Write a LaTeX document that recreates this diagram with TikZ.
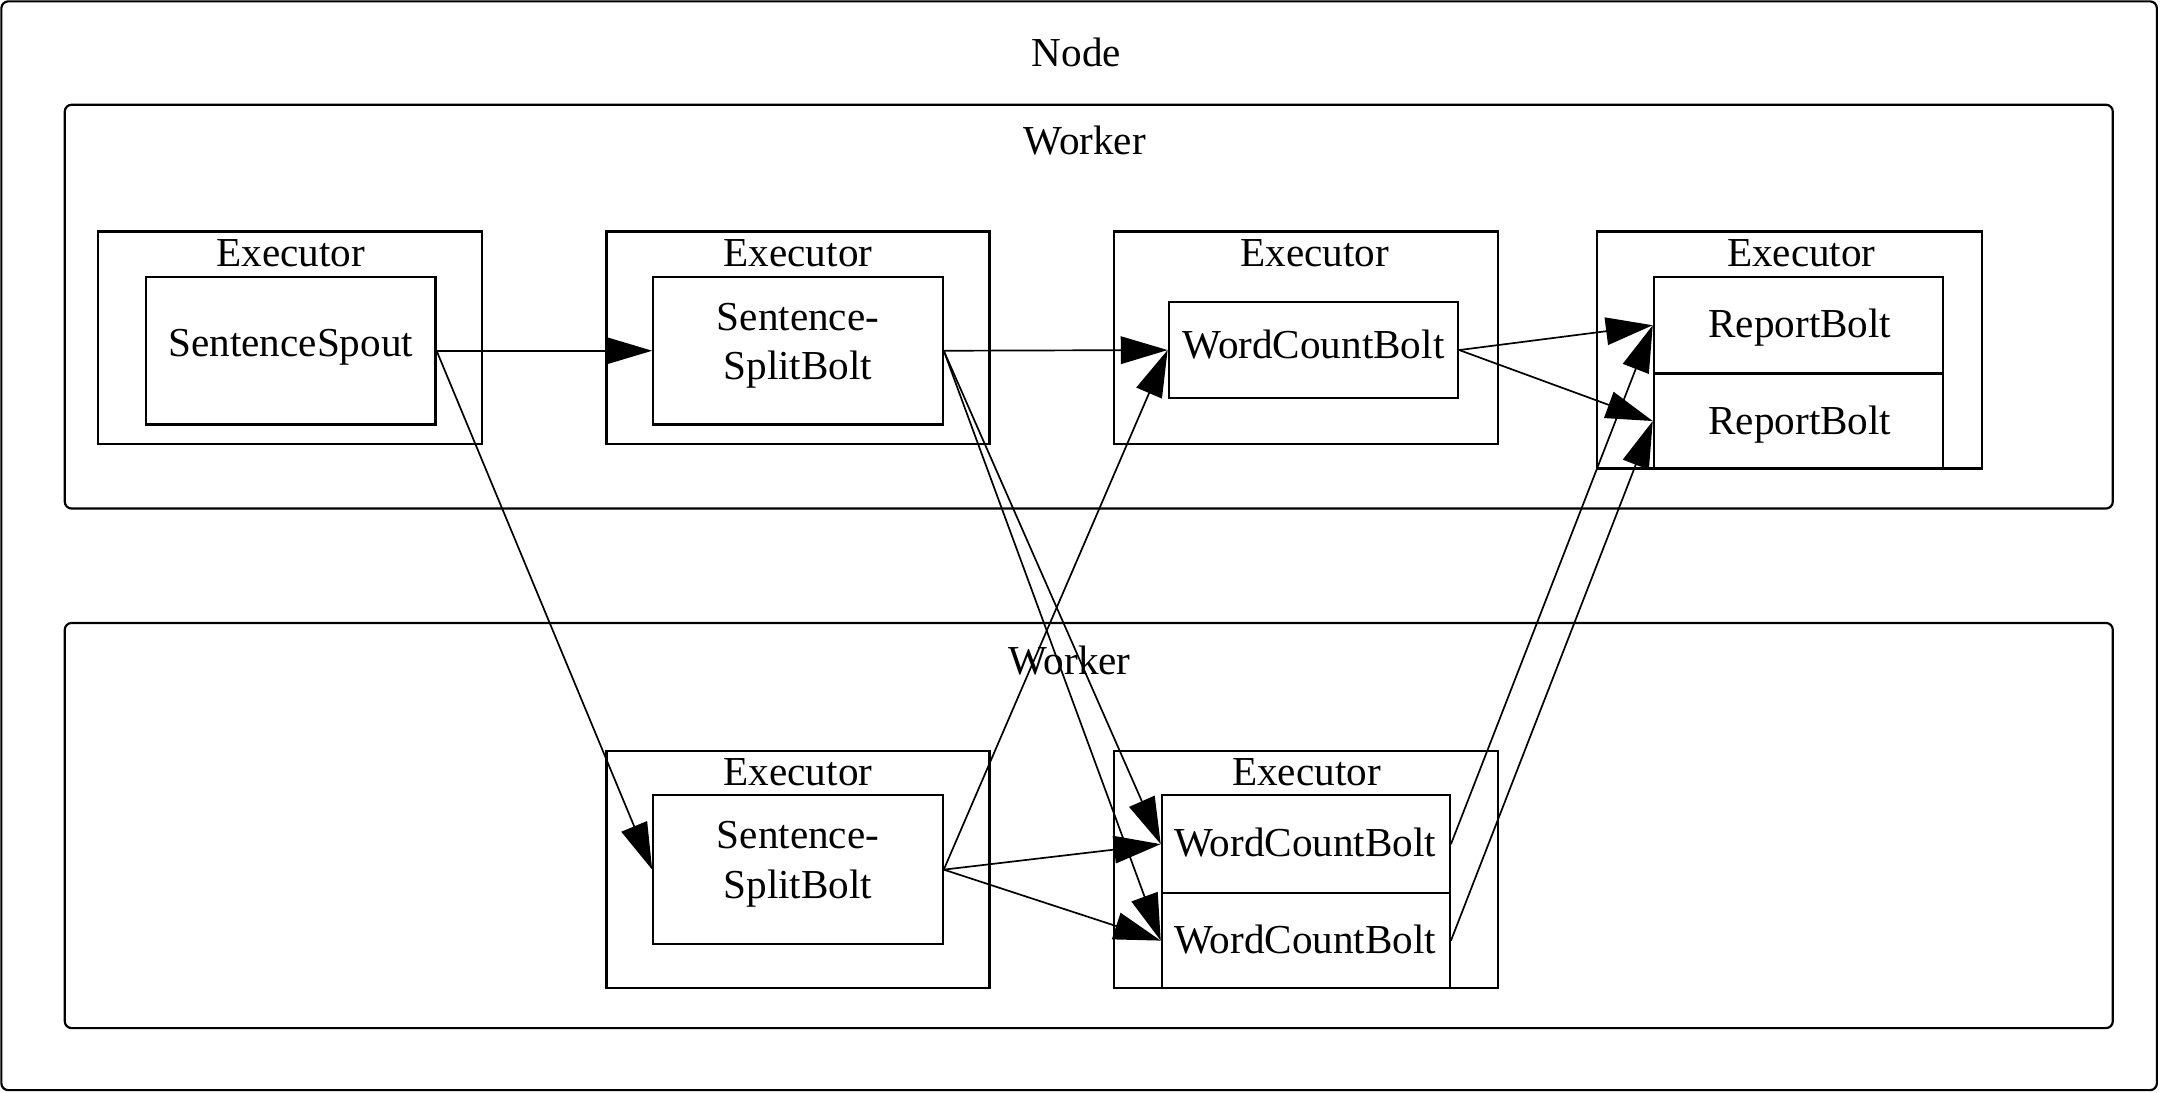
\documentclass[tikz,border=0pt]{standalone}
\usepackage{fontspec}
\setmainfont{Liberation Serif}
\usetikzlibrary{fit,arrows.meta}
\tikzset{
  box/.style={draw, line width=0.9pt, inner sep=0pt},
  rbox/.style={box, rounded corners=0.1cm},
  txt/.style={font=\fontsize{17}{20.5}\selectfont, inner sep=0pt, align=center},
  link/.style={line width=0.7pt, -{Triangle[length=0.68cm,width=0.4cm]}},
}
\begin{document}
\begin{tikzpicture}[x=0.02cm, y=-0.02cm]
\useasboundingbox (0,0) rectangle (1568,793);
% containers
\node[rbox, fit={(1,1) (1565,791)}] (nodebox) {};
\node[txt] (nodelab) at (781,38) {Node};
\node[rbox, fit={(47,76) (1533,369)}] (worker1) {};
\node[txt] (worker1lab) at (787,102) {Worker};
\node[rbox, fit={(47,452) (1533,746)}] (worker2) {};
\node[txt] (worker2lab) at (776,479) {Worker};
% executors
\node[box, fit={(71,168) (350,322)}] (ex1) {};
\node[txt] (ex1lab) at (211,184) {Executor};
\node[box, fit={(440,168) (718,322)}] (ex2) {};
\node[txt] (ex2lab) at (579,184) {Executor};
\node[box, fit={(808,168) (1087,322)}] (ex3) {};
\node[txt] (ex3lab) at (954,184) {Executor};
\node[box, fit={(1159,168) (1438,340)}] (ex4) {};
\node[txt] (ex4lab) at (1307,184) {Executor};
\node[box, fit={(440,545) (718,717)}] (ex5) {};
\node[txt] (ex5lab) at (579,560) {Executor};
\node[box, fit={(808,545) (1087,717)}] (ex6) {};
\node[txt] (ex6lab) at (948,560) {Executor};
% components
\node[box, fit={(106,201) (316,308)}] (spout) {};
\node[txt] (spoutlab) at (211,252) {SentenceSpout};
\node[box, fit={(474,201) (684,308)}] (splitA) {};
\node[txt] (splitAlab) at (579,251) {Sentence-\\SplitBolt};
\node[box, fit={(848,219) (1058,289)}] (wcA) {};
\node[txt] (wcAlab) at (953,250) {WordCountBolt};
\node[box, fit={(1200,201) (1410,271)}] (rbA) {};
\node[txt] (rbAlab) at (1306,238) {ReportBolt};
\node[box, fit={(1200,271) (1410,340)}] (rbB) {};
\node[txt] (rbBlab) at (1306,308) {ReportBolt};
\node[box, fit={(474,577) (684,685)}] (splitB) {};
\node[txt] (splitBlab) at (579,627) {Sentence-\\SplitBolt};
\node[box, fit={(843,577) (1052,648)}] (wcB1) {};
\node[txt] (wcB1lab) at (947,611) {WordCountBolt};
\node[box, fit={(843,648) (1052,717)}] (wcB2) {};
\node[txt] (wcB2lab) at (947,682) {WordCountBolt};
% connectors
\draw[link] (spout.east) -- (splitA.west);
\draw[link] (splitA.east) -- (wcA.west);
\draw[link] (wcA.east) -- (rbA.west);
\draw[link] (wcA.east) -- (rbB.west);
\draw[link] (spout.east) -- (splitB.west);
\draw[link] (splitA.east) -- (wcB1.west);
\draw[link] (splitA.east) -- (wcB2.west);
\draw[link] (splitB.east) -- (wcA.west);
\draw[link] (splitB.east) -- (wcB1.west);
\draw[link] (splitB.east) -- (wcB2.west);
\draw[link] (wcB1.east) -- (rbA.west);
\draw[link] (wcB2.east) -- (rbB.west);
\end{tikzpicture}
\end{document}
